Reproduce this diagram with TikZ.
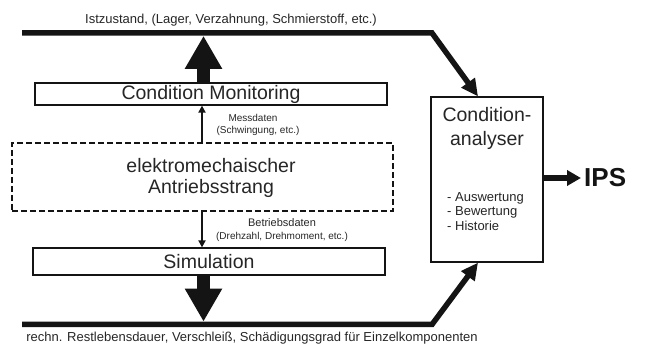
\documentclass[tikz,border=0pt]{standalone}
\usepackage{fontspec}
\setmainfont{Liberation Sans}
\usetikzlibrary{arrows.meta,calc}
\definecolor{ink}{gray}{0.08}
\definecolor{txt}{gray}{0.15}
\begin{document}
\begin{tikzpicture}[x=1pt,y=-1pt,
  box/.style={draw=ink, line width=1.2pt, inner sep=0pt, fill=white},
  dbox/.style={draw=ink, line width=1.2pt, inner sep=0pt, dash pattern=on 6pt off 3pt},
  mainfont/.style={font=\fontsize{19.5}{21}\selectfont, text=txt},
  flowarrow/.style={draw=ink, line width=5.5pt, -{Triangle[length=17pt,width=16pt]}},
  bigarrow/.style={draw=ink, line width=13pt, -{Triangle[length=33pt,width=35pt]}},
  smallarrow/.style={draw=ink, line width=1.8pt, -{Triangle[length=7pt,width=7pt]}},
  ipsarrow/.style={draw=ink, line width=6pt, -{Triangle[length=14pt,width=15pt]}},
  lbl/.style={font=\fontsize{10}{12}\selectfont, text=txt, inner sep=0pt},
  lblb/.style={font=\fontsize{11}{13}\selectfont, text=txt, inner sep=0pt},
  caption/.style={font=\fontsize{13}{15}\selectfont, text=txt, inner sep=0pt}
]
\useasboundingbox (0,0) rectangle (645,344);

% boxes
\node[box, minimum width=352pt, minimum height=22pt, mainfont] (cm) at (211,94) {Condition Monitoring};
\node[dbox, minimum width=381pt, minimum height=68pt] (db) at (202.5,177) {};
\node[mainfont, align=center, inner sep=0pt] (dbt) at (211,178) {elektromechaischer\\Antriebsstrang};
\node[box, minimum width=352pt, minimum height=27pt, mainfont] (sim) at (209,261.5) {Simulation};
\node[box, minimum width=112pt, minimum height=165pt] (ca) at (487,179.5) {};
\node[font=\fontsize{19.5}{24}\selectfont, text=txt, align=center, inner sep=0pt] (cat) at (487,128) {Condition-\\analyser};
\node[font=\fontsize{13}{14.5}\selectfont, text=txt, align=left, anchor=west, inner sep=0pt] (list) at (447,211.5) {- Auswertung\\- Bewertung\\- Historie};
\node[font=\bfseries\fontsize{26}{28}\selectfont, text=ink, anchor=west, inner xsep=3pt, inner ysep=0pt] (ips) at (581,178) {IPS};

% texts
\node[caption] (top) at (231,20) {Istzustand, (Lager, Verzahnung, Schmierstoff, etc.)};
\node[caption] (bot) at (252,338) {rechn. Restlebensdauer, Verschleiß, Schädigungsgrad für Einzelkomponenten};
\node[lbl] (md) at (253,118) {Messdaten};
\node[lbl] (md2) at (258,131) {(Schwingung, etc.)};
\node[lblb] (bd) at (282,223) {Betriebsdaten};
\node[lbl] (bd2) at (282,237) {(Drehzahl, Drehmoment, etc.)};

% main lines
\coordinate (tl) at (22,33);
\coordinate (tk) at (432,33);
\coordinate (bl) at (22,324.5);
\coordinate (bk) at (432,324.5);
\coordinate (ax) at (203.5,0);
\coordinate (sx) at (202,0);

\draw[flowarrow] (tl) -- (tk) -- ($(ca.north)+(-9,0)$);
\draw[flowarrow] (bl) -- (bk) -- ($(ca.south)+(-9,0)$);

\draw[bigarrow] (cm.north -| ax) -- ($(tl -| ax)+(0,2.8)$);
\draw[bigarrow] (sim.south -| ax) -- ($(bl -| ax)+(0,-2.8)$);

\draw[smallarrow] (db.north -| sx) -- (cm.south -| sx);
\draw[smallarrow] (db.south -| sx) -- (sim.north -| sx);

\draw[ipsarrow] (ca.east |- ips) -- (ips.west);
\end{tikzpicture}
\end{document}
